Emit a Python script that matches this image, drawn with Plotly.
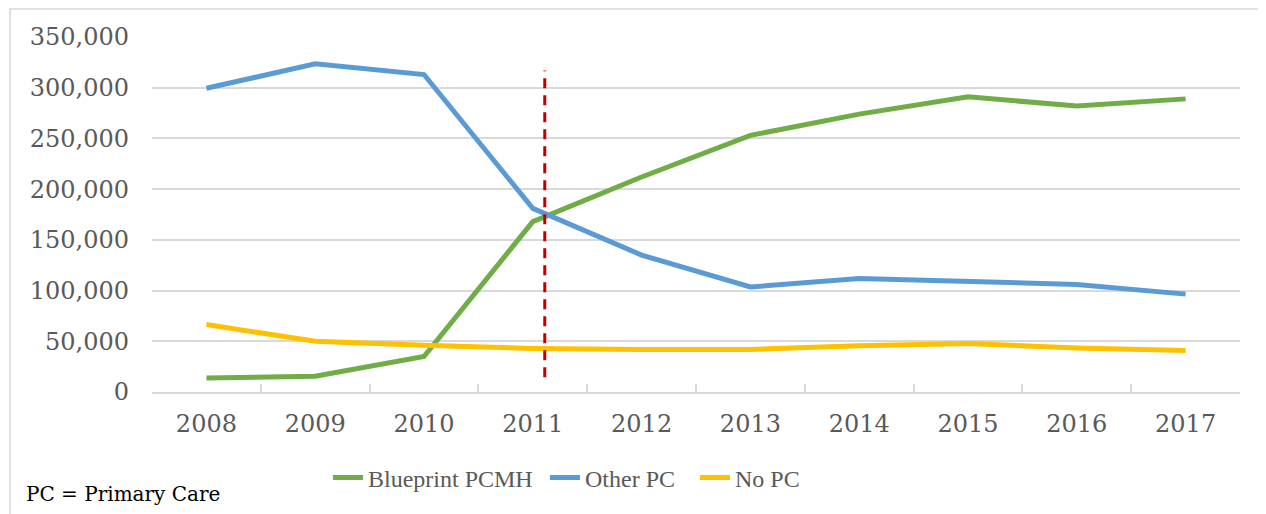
import plotly.graph_objects as go

years = ["2008", "2009", "2010", "2011", "2012", "2013", "2014", "2015", "2016", "2017"]
blueprint_pcmh = [13800, 15500, 35000, 168000, 212000, 253000, 274000, 291000, 282000, 289000]
other_pc = [299500, 323500, 313000, 181000, 135000, 103500, 112000, 108500, 106000, 96500]
no_pc = [66500, 50000, 46000, 43000, 42000, 42000, 45500, 47800, 43500, 41000]

y_ticks = [0, 50000, 100000, 150000, 200000, 250000, 300000, 350000]
y_tick_text = ["0", "50,000", "100,000", "150,000", "200,000", "250,000", "300,000", "350,000"]

marker_x = 3.11          # position of the dashed reference line (category index)
marker_y0 = 14500
marker_y1 = 317000

# layout geometry (absolute page px; page body has an 8px margin)
PLOT_L, PLOT_R, PLOT_T, PLOT_B = 152, 1240, 37, 392
PW = PLOT_R - PLOT_L
PH = PLOT_B - PLOT_T


def px_x(v):
    return (v - PLOT_L) / PW


def px_y(v):
    return (PLOT_B - v) / PH


fig = go.Figure()
series = [
    ("Blueprint PCMH", blueprint_pcmh, "#70AD47", "legend", 328),
    ("Other PC", other_pc, "#5B9BD5", "legend2", 545),
    ("No PC", no_pc, "#FFC000", "legend3", 695),
]
legend_font = dict(family="Liberation Serif", size=24, color="#595959")
legends = {}
for name, vals, col, lg, lx in series:
    fig.add_trace(go.Scatter(x=years, y=vals, name=name, mode="lines",
                             line=dict(color=col, width=5), legend=lg))
    legends[lg] = dict(orientation="h", x=px_x(lx), xanchor="left",
                       y=px_y(478), yanchor="middle", font=legend_font,
                       bgcolor="rgba(0,0,0,0)")

fig.add_shape(type="line", xref="x", yref="y", x0=marker_x, x1=marker_x,
              y0=marker_y0, y1=marker_y1,
              line=dict(color="#C00000", width=3, dash="10px,7px"))

# outer chart border
fig.add_shape(type="rect", xref="paper", yref="paper",
              x0=px_x(10), x1=px_x(1300), y0=px_y(560), y1=px_y(9),
              line=dict(color="#D9D9D9", width=1.5), layer="below")

fig.add_annotation(text="PC = Primary Care", xref="paper", yref="paper",
                   x=px_x(24), y=px_y(494), xanchor="left", yanchor="middle",
                   showarrow=False,
                   font=dict(family="DejaVu Serif", size=20, color="#000000"))

fig.update_layout(
    width=1266, height=514,
    margin=dict(l=PLOT_L - 8, r=1266 + 8 - PLOT_R, t=PLOT_T - 8, b=514 + 8 - PLOT_B),
    paper_bgcolor="white", plot_bgcolor="white",
    showlegend=True,
    xaxis=dict(type="category", range=[-0.5, 9.5],
               showgrid=False, showline=True, linecolor="#D9D9D9", linewidth=1.5,
               ticks="inside", tickson="boundaries", ticklen=8,
               tickcolor="#D9D9D9", tickwidth=1.5,
               ticklabelstandoff=9,
               tickfont=dict(family="DejaVu Serif", size=24, color="#595959"),
               zeroline=False),
    yaxis=dict(range=[0, 350000], tickvals=y_ticks, ticktext=y_tick_text,
               showgrid=True, gridcolor="#D9D9D9", gridwidth=1.5,
               showline=False, zeroline=False, ticks="",
               ticklabelstandoff=22,
               tickfont=dict(family="DejaVu Serif", size=24, color="#595959")),
    **legends,
)

fig.write_html("out.html")
